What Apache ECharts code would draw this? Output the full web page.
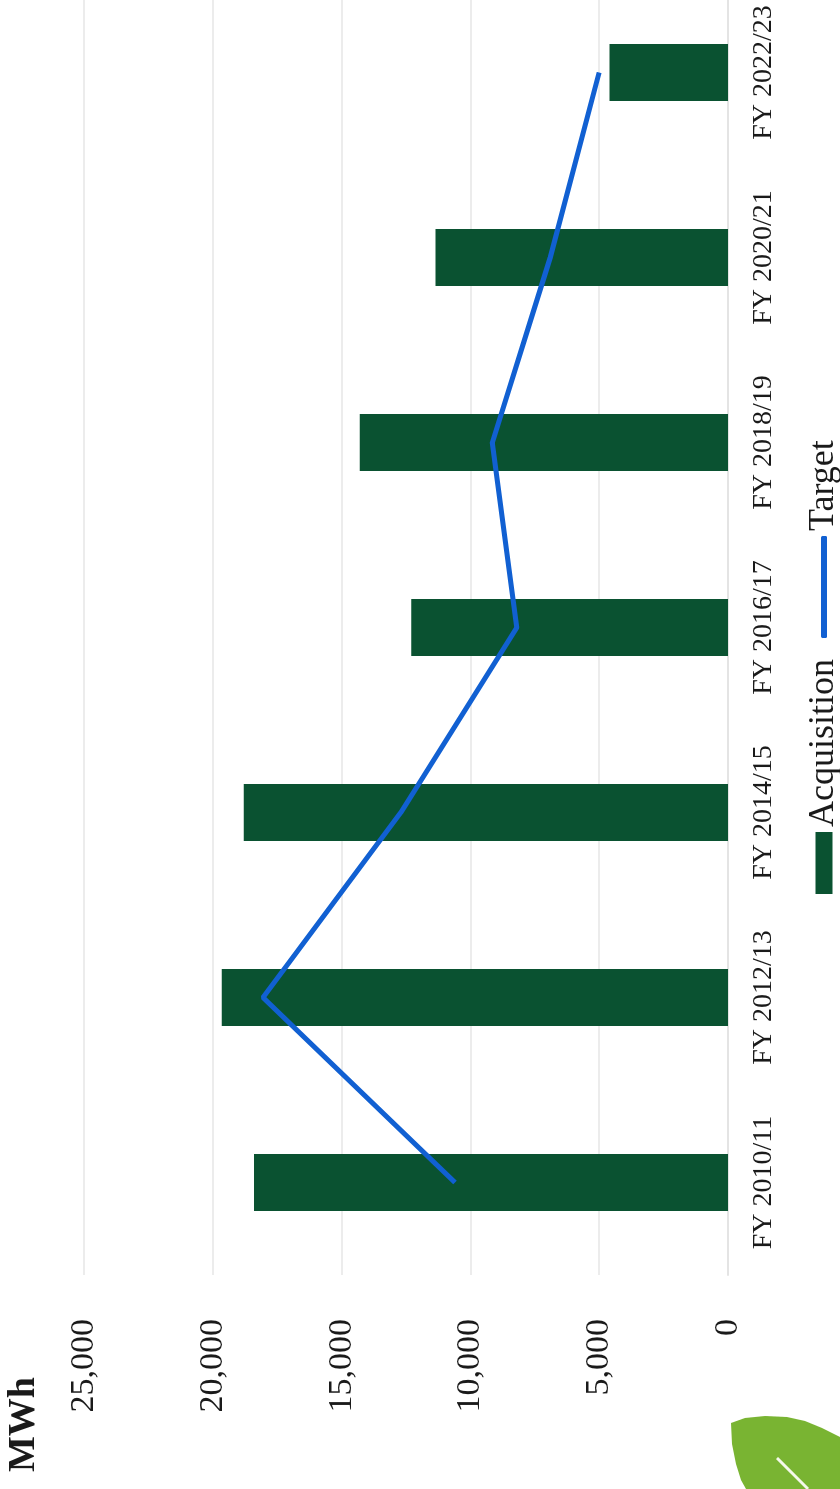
<!DOCTYPE html>
<html>
<head>
<meta charset="utf-8">
<script src="https://cdn.jsdelivr.net/npm/echarts@6/dist/echarts.min.js"></script>
<style>
  html, body { margin: 0; padding: 0; background: #fff; overflow: hidden; }
  #page { position: relative; width: 840px; height: 1489px; overflow: hidden; background: #fff; }
  /* the chart sits on the page turned a quarter turn counter-clockwise */
  #chart {
    position: absolute; left: 0; top: 0;
    width: 1489px; height: 840px;
    transform-origin: 0 0;
    transform: translate(0, 1489px) rotate(-90deg);
  }
</style>
</head>
<body>
<div id="page"><div id="chart"></div></div>
<script>
// Renewable electricity acquired each financial year against the target (MWh)
const years = ['FY 2010/11', 'FY 2012/13', 'FY 2014/15', 'FY 2016/17', 'FY 2018/19', 'FY 2020/21', 'FY 2022/23'];
const acquisition = [18400, 19650, 18800, 12300, 14300, 11350, 4600];
const target = [10600, 18050, 12700, 8200, 9150, 6900, 5000];
const valueTicks = { min: 0, max: 25000, step: 5000 };

const serif = '"Liberation Serif", "Times New Roman", serif';
const chart = echarts.init(document.getElementById('chart'), null, { renderer: 'canvas' });

chart.setOption({
  backgroundColor: '#ffffff',
  animation: false,
  title: {
    text: 'MWh',
    left: 12, top: 0,
    textStyle: { fontFamily: serif, fontWeight: 'bold', fontSize: 38, color: '#1a1a1a' }
  },
  legend: [
    {
      data: ['Acquisition'],
      left: 590, top: 801,
      icon: 'rect', itemWidth: 62, itemHeight: 17,
      textStyle: { fontFamily: serif, fontSize: 36, color: '#1a1a1a' }
    },
    {
      data: ['Target'],
      left: 846, top: 801,
      icon: 'roundRect', itemWidth: 102, itemHeight: 6,
      textStyle: { fontFamily: serif, fontSize: 36, color: '#1a1a1a' }
    }
  ],
  grid: { left: 214, right: -20, top: 84, bottom: 112, containLabel: false, outerBoundsMode: 'none' },
  xAxis: {
    type: 'category',
    data: years,
    axisLine: { lineStyle: { color: '#e4e4e4', width: 2 } },
    axisTick: { show: false },
    axisLabel: { margin: 22, fontFamily: serif, fontSize: 28, color: '#1a1a1a' }
  },
  yAxis: {
    type: 'value',
    min: valueTicks.min, max: valueTicks.max, interval: valueTicks.step,
    axisLine: { show: false },
    axisTick: { show: false },
    splitLine: { lineStyle: { color: '#ececec', width: 2 } },
    axisLabel: { margin: 44, fontFamily: serif, fontSize: 34, color: '#1a1a1a' }
  },
  series: [
    {
      name: 'Acquisition',
      type: 'bar',
      data: acquisition,
      barWidth: 57,
      itemStyle: { color: '#0a5231' }
    },
    {
      name: 'Target',
      type: 'line',
      data: target,
      symbol: 'none',
      lineStyle: { color: '#1160d2', width: 5 },
      itemStyle: { color: '#1160d2' }
    }
  ],
  graphic: [
    {
      type: 'polygon',
      shape: { points: [[0, 746], [9, 741], [25, 736], [45, 732], [66, 731], [71, 745], [73, 765], [72, 787], [68, 805], [61, 822], [52, 840], [0, 840]] },
      style: { fill: '#79b432' }
    },
    {
      type: 'line',
      shape: { x1: 31, y1: 777, x2: 0, y2: 808 },
      style: { stroke: '#f4f8ea', lineWidth: 3 }
    }
  ]
});
</script>
</body>
</html>
